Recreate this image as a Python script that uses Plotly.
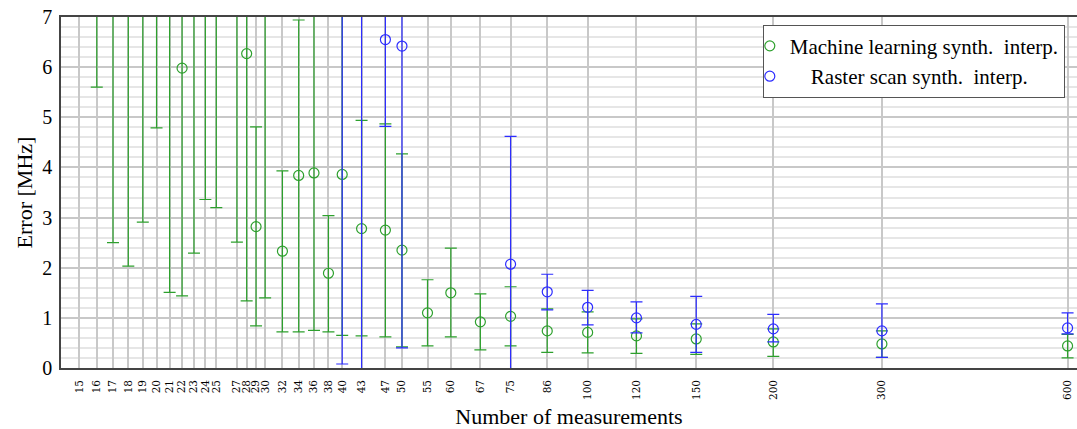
import plotly.graph_objects as go
import numpy as np

# Number of measurements (x categories, log axis)
n_meas = [15, 16, 17, 18, 19, 20, 21, 22, 23, 24, 25, 27, 28, 29, 30, 32, 34, 36, 38,
          40, 43, 47, 50, 55, 60, 67, 75, 86, 100, 120, 150, 200, 300, 600]

# Machine learning synth. interp. (values above 7 are off-chart estimates)
ml_mean = [None, 9.5, 8.5, 8.0, 8.5, 9.0, 8.0, 5.98, 8.0, 9.0, 8.5, 7.8, 6.27, 2.82, 7.5,
           2.33, 3.84, 3.89, 1.89, 3.86, 2.78, 2.75, 2.35, 1.10, 1.50, 0.92, 1.03, 0.74,
           0.71, 0.64, 0.58, 0.52, 0.48, 0.44]
ml_low = [None, 5.60, 2.50, 2.03, 2.91, 4.79, 1.51, 1.44, 2.29, 3.36, 3.20, 2.51, 1.34, 0.84,
          1.40, 0.72, 0.72, 0.75, 0.72, 0.65, 0.64, 0.62, 0.42, 0.44, 0.62, 0.36, 0.44, 0.31,
          0.30, 0.29, 0.27, 0.23, 0.21, 0.20]
ml_high = [None, 11.0, 11.0, 11.0, 11.0, 11.0, 11.0, 10.0, 11.0, 11.0, 11.0, 10.0, 10.0, 4.81,
           10.0, 3.93, 6.94, 10.0, 3.04, 9.0, 4.94, 4.87, 4.27, 1.76, 2.39, 1.48, 1.62, 1.18,
           1.12, 0.98, 0.88, 0.78, 0.74, 0.67]

# Raster scan synth. interp.
rs_mean = [None] * 19 + [9.0, 8.5, 6.55, 6.42, None, None, None, 2.07, 1.52, 1.21, 1.00,
                         0.87, 0.78, 0.74, 0.80]
rs_low = [None] * 19 + [0.08, -0.5, 4.82, 0.40, None, None, None, -0.3, 1.16, 0.86, 0.70,
                        0.31, 0.52, 0.21, 0.68]
rs_high = [None] * 19 + [11.0, 11.0, 10.0, 10.0, None, None, None, 4.62, 1.87, 1.55, 1.32,
                         1.43, 1.07, 1.28, 1.10]

tick_labels = [str(v) for v in n_meas]

GREEN = "rgb(45,160,45)"
BLUE = "rgb(45,45,255)"
SERIF = "Liberation Serif"


def err(mean, low, high):
    plus, minus = [], []
    for m, lo, hi in zip(mean, low, high):
        if m is None:
            plus.append(None)
            minus.append(None)
        else:
            plus.append(hi - m)
            minus.append(m - lo)
    return plus, minus


mp, mm = err(ml_mean, ml_low, ml_high)
rp, rm = err(rs_mean, rs_low, rs_high)

fig = go.Figure()
fig.add_trace(go.Scatter(
    x=n_meas, y=ml_mean, mode="markers",
    name="Machine learning synth.\u00a0 interp.",
    marker=dict(symbol="circle-open", size=10, color=GREEN, line=dict(width=1.2, color=GREEN)),
    error_y=dict(type="data", symmetric=False, array=mp, arrayminus=mm,
                 color=GREEN, thickness=1.2, width=6),
    cliponaxis=True,
))
fig.add_trace(go.Scatter(
    x=n_meas, y=rs_mean, mode="markers",
    name="\u00a0\u00a0\u00a0\u00a0Raster scan synth.\u00a0 interp.",
    marker=dict(symbol="circle-open", size=10, color=BLUE, line=dict(width=1.2, color=BLUE)),
    error_y=dict(type="data", symmetric=False, array=rp, arrayminus=rm,
                 color=BLUE, thickness=1.2, width=6),
    cliponaxis=True,
))

fig.update_layout(
    width=1077, height=429,
    margin=dict(l=61, r=0, t=17, b=61),
    paper_bgcolor="white", plot_bgcolor="white",
    font=dict(family=SERIF, color="black"),
    showlegend=True,
    legend=dict(
        x=0.988, y=0.978, xanchor="right", yanchor="top",
        bgcolor="white", bordercolor="#555555", borderwidth=1,
        font=dict(family=SERIF, size=21, color="black"),
        itemwidth=30, tracegroupgap=0, indentation=-14,
    ),
    xaxis=dict(
        type="log", automargin=False,
        range=[np.log10(14.0), np.log10(621.5)],
        tickmode="array", tickvals=n_meas, ticktext=tick_labels,
        tickangle=-90,
        tickfont=dict(family="DejaVu Serif", size=10.5, color="black"),
        showgrid=True, gridcolor="#c8c8c8", gridwidth=1.5,
        showline=True, linecolor="#444444", linewidth=1.5, mirror=True,
        ticks="", ticklabelstandoff=6,
        zeroline=False,
        title=dict(text="Number of measurements", font=dict(family=SERIF, size=22), standoff=25),
    ),
    yaxis=dict(
        range=[0, 7], automargin=False,
        tickmode="array", tickvals=[0, 1, 2, 3, 4, 5, 6, 7],
        tickfont=dict(family=SERIF, size=20, color="black"),
        showgrid=True, gridcolor="#c8c8c8", gridwidth=1.5,
        minor=dict(tickvals=[v / 5 for v in range(36) if v % 5 != 0],
                   showgrid=True, gridcolor="#e6e6e6", gridwidth=1.5),
        showline=True, linecolor="#444444", linewidth=1.5, mirror=False,
        ticks="", ticklabelstandoff=3,
        zeroline=False,
        title=dict(text="Error [MHz]", font=dict(family=SERIF, size=22), standoff=4),
    ),
)

fig.write_html("out.html")
